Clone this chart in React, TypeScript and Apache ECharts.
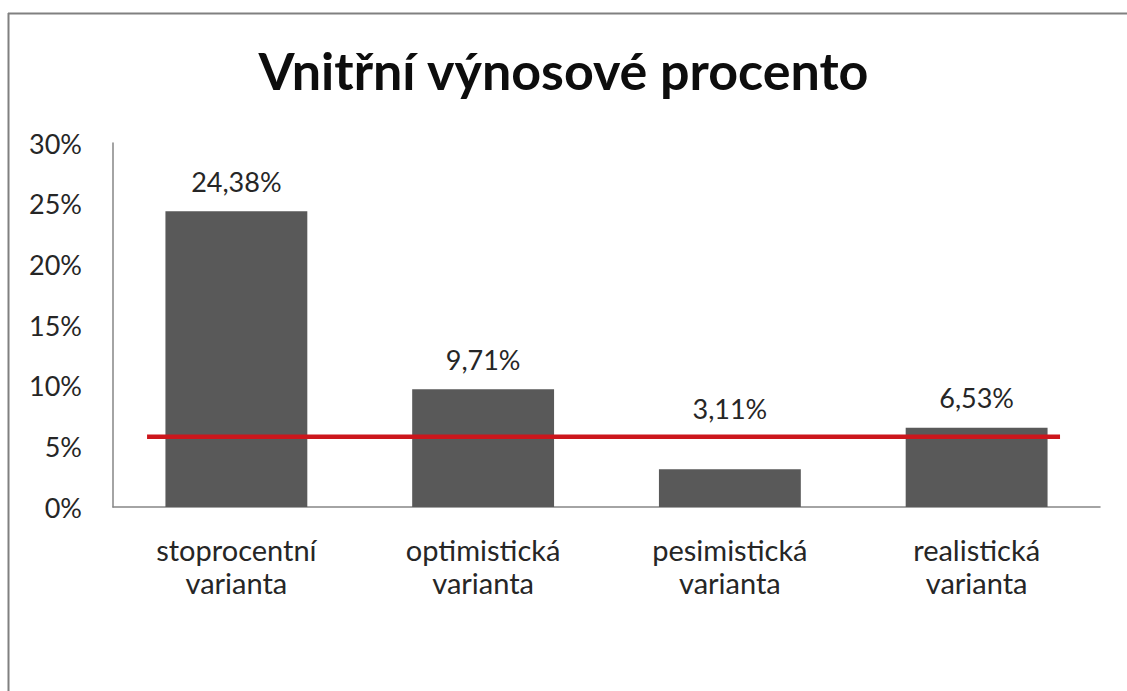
import React, { useEffect, useRef } from "react";
import * as echarts from "echarts";

const TITLE = "Vnitřní výnosové procento";
const categories = ["stoprocentní\nvarianta", "optimistická\nvarianta", "pesimistická\nvarianta", "realistická\nvarianta"];
const irrValues = [24.38, 9.71, 3.11, 6.53];
const labelDistances = [15, 15, 46, 15];
const referenceRate = 5.8;
const referenceSpan = [0.138, 3.838];
const yTicks = [0, 5, 10, 15, 20, 25, 30];

const FONT = "Lato, 'Open Sans', sans-serif";

export default function App() {
  const ref = useRef<HTMLDivElement>(null);
  useEffect(() => {
    if (!ref.current) return;
    const chart = echarts.init(ref.current, null, { renderer: "svg" });
    chart.setOption({
      animation: false,
      backgroundColor: "#ffffff",
      title: {
        text: TITLE,
        left: "center",
        top: 39,
        textStyle: { fontFamily: FONT, fontSize: 52, fontWeight: "bold", color: "#0d0d0d" },
      },
      grid: { left: 113, right: 27, top: 143, bottom: 184, containLabel: false },
      xAxis: [
        {
          type: "category",
          data: categories,
          axisLine: { show: true, lineStyle: { color: "#868686", width: 1.5 } },
          axisTick: { show: false },
          axisLabel: { fontFamily: FONT, fontSize: 29, color: "#262626", lineHeight: 33, margin: 26 },
        },
        { type: "value", min: 0, max: 4, show: false },
      ],
      yAxis: {
        type: "value",
        min: yTicks[0],
        max: yTicks[yTicks.length - 1],
        interval: 5,
        splitLine: { show: false },
        axisLine: { show: true, lineStyle: { color: "#868686", width: 1.5 } },
        axisTick: { show: false },
        axisLabel: {
          fontFamily: FONT,
          fontSize: 27,
          color: "#262626",
          margin: 31,
          formatter: (v: number) => `${v}%`,
        },
      },
      series: [
        {
          type: "bar",
          data: irrValues.map((v, i) => ({ value: v, label: { distance: labelDistances[i] } })),
          barWidth: "57.5%",
          itemStyle: { color: "#595959" },
          label: {
            show: true,
            position: "top",
            fontFamily: FONT,
            fontSize: 27,
            lineHeight: 30,
            color: "#262626",
            formatter: (p: any) => `${p.value.toFixed(2).replace(".", ",")}%`,
          },
          z: 2,
        },
        {
          type: "line",
          xAxisIndex: 1,
          data: referenceSpan.map((x) => [x, referenceRate]),
          symbol: "none",
          lineStyle: { color: "#cc161c", width: 4.5 },
          z: 3,
        },
      ],
      graphic: [
        { type: "line", shape: { x1: 8.5, y1: 13, x2: 8.5, y2: 691 }, style: { stroke: "#808080", lineWidth: 2 } },
        { type: "line", shape: { x1: 8, y1: 13.5, x2: 1127, y2: 13.5 }, style: { stroke: "#808080", lineWidth: 2 } },
      ],
    });
    return () => chart.dispose();
  }, []);
  return (
    <div
      ref={ref}
      style={{ position: "fixed", left: 0, top: 0, width: 1127, height: 691, background: "#fff" }}
    />
  );
}
